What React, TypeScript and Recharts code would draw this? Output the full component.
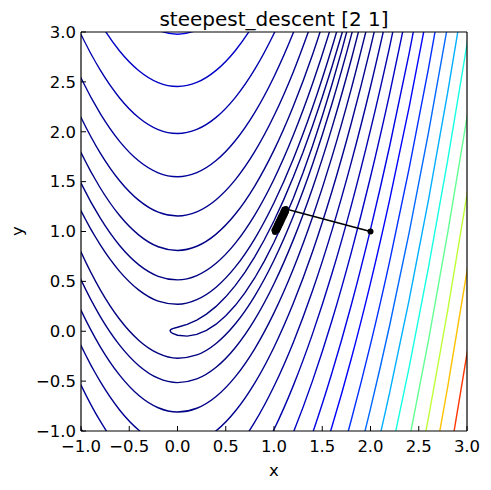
import React from 'react';
import { LineChart, Line, XAxis, YAxis } from 'recharts';

// contour levels of the Rosenbrock surface
const levels = [1.16, 8.3, 27.5, 66.6, 134.6, 241, 394, 603, 888, 1238, 1708, 2281, 2969, 3754, 4703, 5826, 7056, 8514];

const xTicks = [-1, -0.5, 0, 0.5, 1, 1.5, 2, 2.5, 3];
const yTicks = [-1, -0.5, 0, 0.5, 1, 1.5, 2, 2.5, 3];

// [x, y] points along each visible contour piece
const c1Hook = [
  [1.8, 3.312], [1.7, 2.972], [1.6, 2.649], [1.5, 2.345], [1.4, 2.06], [1.3, 1.793], [1.2, 1.546], [1.1, 1.317],
  [1.0, 1.108], [0.9, 0.917], [0.8, 0.746], [0.7, 0.593], [0.6, 0.46], [0.5, 0.345], [0.4, 0.249], [0.3, 0.172],
  [0.2, 0.112], [0.1, 0.069], [0, 0.04], [-0.05, 0.027], [-0.07, 0.017], [-0.077, 0.006],
  [-0.07, -0.007], [-0.05, -0.022], [0, -0.04], [0.1, -0.049], [0.2, -0.032], [0.3, 0.008], [0.4, 0.071],
  [0.5, 0.155], [0.6, 0.26], [0.7, 0.387], [0.8, 0.534], [0.9, 0.703], [1.0, 0.892], [1.1, 1.103], [1.2, 1.334],
  [1.3, 1.587], [1.4, 1.86], [1.5, 2.155], [1.6, 2.471], [1.7, 2.808], [1.8, 3.168],
];
const c2Upper = [[-1.2, 1.626], [-1, 1.207], [-0.8, 0.865], [-0.6, 0.6], [-0.4, 0.412], [-0.2, 0.302], [0, 0.27], [0.2, 0.317], [0.4, 0.442], [0.6, 0.645], [0.8, 0.927], [1, 1.288], [1.2, 1.727], [1.4, 2.245], [1.6, 2.842], [1.8, 3.517]];
const c2Lower = [[-1.2, 1.254], [-1, 0.793], [-0.8, 0.415], [-0.6, 0.12], [-0.4, -0.092], [-0.2, -0.222], [0, -0.27], [0.2, -0.237], [0.4, -0.122], [0.6, 0.075], [0.8, 0.353], [1, 0.712], [1.2, 1.153], [1.4, 1.675], [1.6, 2.278], [1.8, 2.963], [2, 3.73]];
const c3Upper = [[-1.2, 1.916], [-1, 1.485], [-0.8, 1.133], [-0.6, 0.859], [-0.4, 0.665], [-0.2, 0.551], [0, 0.515], [0.2, 0.558], [0.4, 0.681], [0.6, 0.883], [0.8, 1.164], [1, 1.524], [1.2, 1.964], [1.4, 2.483], [1.6, 3.081], [1.8, 3.758]];
const c3Lower = [[-1.2, 0.964], [-1, 0.515], [-0.8, 0.147], [-0.6, -0.139], [-0.4, -0.345], [-0.2, -0.471], [0, -0.515], [0.2, -0.478], [0.4, -0.361], [0.6, -0.163], [0.8, 0.116], [1, 0.476], [1.2, 0.916], [1.4, 1.437], [1.6, 2.039], [1.8, 2.722], [2, 3.485]];
const c4Upper = [[-1.2, 2.226], [-1, 1.791], [-0.8, 1.436], [-0.6, 1.16], [-0.4, 0.964], [-0.2, 0.847], [0, 0.81], [0.2, 0.852], [0.4, 0.974], [0.6, 1.175], [0.8, 1.456], [1, 1.816], [1.2, 2.256], [1.4, 2.775], [1.6, 3.374]];
const c4Lower = [[-1.2, 0.654], [-1, 0.209], [-0.8, -0.156], [-0.6, -0.44], [-0.4, -0.644], [-0.2, -0.767], [0, -0.81], [0.2, -0.772], [0.4, -0.654], [0.6, -0.455], [0.8, -0.176], [1, 0.184], [1.2, 0.624], [1.4, 1.145], [1.6, 1.746], [1.8, 2.428], [2, 3.19]];
const c5Upper = [[-1.2, 2.579], [-1, 2.143], [-0.8, 1.786], [-0.6, 1.509], [-0.4, 1.312], [-0.2, 1.194], [0, 1.156], [0.2, 1.197], [0.4, 1.319], [0.6, 1.52], [0.8, 1.8], [1, 2.16], [1.2, 2.6], [1.4, 3.12]];
const c5Lower = [[-1.2, 0.301], [-1, -0.143], [-0.8, -0.506], [-0.6, -0.789], [-0.4, -0.992], [-0.2, -1.114], [0, -1.156], [0.2, -1.117], [0.4, -0.999], [0.6, -0.8], [0.8, -0.52], [1, -0.16], [1.2, 0.28], [1.4, 0.8], [1.6, 1.401], [1.8, 2.083], [2, 2.844], [2.2, 3.686]];
const c6Upper = [[-1.2, 2.977], [-1, 2.539], [-0.8, 2.182], [-0.6, 1.904], [-0.4, 1.706], [-0.2, 1.588], [0, 1.549], [0.2, 1.59], [0.4, 1.711], [0.6, 1.912], [0.8, 2.192], [1, 2.552], [1.2, 2.992], [1.4, 3.512]];
const c6Lower = [[-1.2, -0.097], [-1, -0.539], [-0.8, -0.902], [-0.6, -1.184], [-0.4, -1.386], [-0.2, -1.508], [0, -1.549], [0.2, -1.51], [0.4, -1.391], [0.6, -1.192], [0.8, -0.912], [1, -0.552], [1.2, -0.112], [1.4, 0.408], [1.6, 1.009], [1.8, 1.69], [2, 2.451], [2.2, 3.292]];
const c7Upper = [[-1.2, 3.413], [-1, 2.975], [-0.8, 2.617], [-0.6, 2.339], [-0.4, 2.14], [-0.2, 2.021], [0, 1.982], [0.2, 2.023], [0.4, 2.144], [0.6, 2.345], [0.8, 2.625], [1, 2.985], [1.2, 3.425]];
const c7Lower = [[-1.2, -0.533], [-1, -0.975], [-0.8, -1.337], [-0.6, -1.619], [-0.4, -1.82], [-0.2, -1.941], [0, -1.982], [0.2, -1.943], [0.4, -1.824], [0.6, -1.625], [0.8, -1.345], [1, -0.985], [1.2, -0.545], [1.4, -0.024], [1.6, 0.576], [1.8, 1.257], [2, 2.018], [2.2, 2.859], [2.4, 3.78]];
const c8Upper = [[-1.2, 3.886], [-1, 3.447], [-0.8, 3.089], [-0.6, 2.81], [-0.4, 2.612], [-0.2, 2.493], [0, 2.454], [0.2, 2.494], [0.4, 2.615], [0.6, 2.815], [0.8, 3.095], [1, 3.456]];
const c8Lower = [[0.8, -1.815], [1, -1.456], [1.2, -1.015], [1.4, -0.495], [1.6, 0.105], [1.8, 0.786], [2, 1.546], [2.2, 2.387], [2.4, 3.308]];
const c9Upper = [[-0.6, 3.337], [-0.4, 3.137], [-0.2, 3.018], [0, 2.978], [0.2, 3.019], [0.4, 3.139], [0.6, 3.339]];
const c9Lower = [[1, -1.98], [1.2, -1.54], [1.4, -1.02], [1.6, -0.419], [1.8, 0.261], [2, 1.022], [2.2, 1.862], [2.4, 2.783], [2.6, 3.784]];
const c10Lower = [[1.2, -2.078], [1.4, -1.558], [1.6, -0.958], [1.8, -0.278], [2, 0.483], [2.2, 1.324], [2.4, 2.244], [2.6, 3.245]];
const c11Lower = [[1.4, -2.172], [1.6, -1.572], [1.8, -0.892], [2, -0.132], [2.2, 0.709], [2.4, 1.63], [2.6, 2.63], [2.8, 3.711]];
const c12Lower = [[1.6, -2.215], [1.8, -1.535], [2, -0.775], [2.2, 0.065], [2.4, 0.986], [2.6, 1.987], [2.8, 3.067], [3, 4.227]];
const c13Lower = [[1.8, -2.208], [2, -1.448], [2.2, -0.608], [2.4, 0.313], [2.6, 1.313], [2.8, 2.394], [3, 3.555]];
const c14Lower = [[2, -2.126], [2.2, -1.286], [2.4, -0.365], [2.6, 0.635], [2.8, 1.716], [3, 2.876], [3.2, 4.117]];
const c15Lower = [[2.2, -2.017], [2.4, -1.096], [2.6, -0.096], [2.8, 0.985], [3, 2.145], [3.2, 3.386]];
const c16Lower = [[2.2, -2.792], [2.4, -1.872], [2.6, -0.871], [2.8, 0.209], [3, 1.37], [3.2, 2.61]];
const c17Lower = [[2.4, -2.638], [2.6, -1.638], [2.8, -0.558], [3, 0.602], [3.2, 1.843]];
const c18Lower = [[2.6, -2.466], [2.8, -1.385], [3, -0.225], [3.2, 1.015]];

// steepest descent iterates, starting at (2, 1), zig-zagging down the valley
const pathX = [2.0, 1.124, 1.106, 1.125, 1.095, 1.113, 1.084, 1.102, 1.072, 1.09, 1.061, 1.079, 1.049, 1.068, 1.038, 1.056, 1.027, 1.045, 1.015, 1.033, 1.004, 1.01];
const pathY = [1.0, 1.226, 1.221, 1.197, 1.197, 1.174, 1.174, 1.151, 1.151, 1.128, 1.128, 1.105, 1.105, 1.081, 1.082, 1.058, 1.059, 1.035, 1.036, 1.012, 1.013, 0.995];

const pieces = [
  { level: levels[0], pts: c1Hook, curve: 'linear' },
  { level: levels[1], pts: c2Upper, curve: 'monotone' },
  { level: levels[1], pts: c2Lower, curve: 'monotone' },
  { level: levels[2], pts: c3Upper, curve: 'monotone' },
  { level: levels[2], pts: c3Lower, curve: 'monotone' },
  { level: levels[3], pts: c4Upper, curve: 'monotone' },
  { level: levels[3], pts: c4Lower, curve: 'monotone' },
  { level: levels[4], pts: c5Upper, curve: 'monotone' },
  { level: levels[4], pts: c5Lower, curve: 'monotone' },
  { level: levels[5], pts: c6Upper, curve: 'monotone' },
  { level: levels[5], pts: c6Lower, curve: 'monotone' },
  { level: levels[6], pts: c7Upper, curve: 'monotone' },
  { level: levels[6], pts: c7Lower, curve: 'monotone' },
  { level: levels[7], pts: c8Upper, curve: 'monotone' },
  { level: levels[7], pts: c8Lower, curve: 'monotone' },
  { level: levels[8], pts: c9Upper, curve: 'monotone' },
  { level: levels[8], pts: c9Lower, curve: 'monotone' },
  { level: levels[9], pts: c10Lower, curve: 'monotone' },
  { level: levels[10], pts: c11Lower, curve: 'monotone' },
  { level: levels[11], pts: c12Lower, curve: 'monotone' },
  { level: levels[12], pts: c13Lower, curve: 'monotone' },
  { level: levels[13], pts: c14Lower, curve: 'monotone' },
  { level: levels[14], pts: c15Lower, curve: 'monotone' },
  { level: levels[15], pts: c16Lower, curve: 'monotone' },
  { level: levels[16], pts: c17Lower, curve: 'monotone' },
  { level: levels[17], pts: c18Lower, curve: 'monotone' },
];

// matplotlib "jet" colormap, levels normalised to 0..10000
function jet(level: number) {
  const v = Math.max(0, Math.min(1, level / 10000));
  const seg = (stops: number[][]) => {
    for (let i = 1; i < stops.length; i++) {
      const [x0, y0] = stops[i - 1];
      const [x1, y1] = stops[i];
      if (v <= x1) return y0 + ((v - x0) / (x1 - x0)) * (y1 - y0);
    }
    return stops[stops.length - 1][1];
  };
  const r = seg([[0, 0], [0.35, 0], [0.66, 1], [0.89, 1], [1, 0.5]]);
  const g = seg([[0, 0], [0.125, 0], [0.375, 1], [0.64, 1], [0.91, 0], [1, 0]]);
  const b = seg([[0, 0.5], [0.11, 1], [0.34, 1], [0.65, 0], [1, 0]]);
  const h = (c: number) => Math.round(c * 255).toString(16).padStart(2, '0');
  return `#${h(r)}${h(g)}${h(b)}`;
}

const toRows = (pts: number[][]) => pts.map(([x, y]) => ({ x, y }));
const pathRows = pathX.map((x, i) => ({ x, y: pathY[i] }));
const fmt = (v: number) => v.toFixed(1).replace('-', '\u2212');

const font = 'DejaVu Sans, sans-serif';
const tickStyle = { fill: '#000', fontSize: 16.5, fontFamily: font };

export default function App() {
  return (
    <div style={{ position: 'absolute', left: 0, top: 0, width: 491, height: 490, background: '#fff' }}>
      <LineChart width={491} height={490} margin={{ top: 31, right: 23, bottom: 0, left: 0 }}>
        <XAxis
          xAxisId={0}
          dataKey="x"
          type="number"
          domain={[-1, 3]}
          ticks={xTicks}
          allowDataOverflow
          height={59}
          tickSize={-5}
          tickMargin={14}
          tickFormatter={fmt}
          tick={tickStyle}
          axisLine={{ stroke: '#000', strokeWidth: 1.2 }}
          tickLine={{ stroke: '#000' }}
        />
        <XAxis
          xAxisId="top"
          orientation="top"
          dataKey="x"
          type="number"
          domain={[-1, 3]}
          ticks={xTicks}
          allowDataOverflow
          height={1}
          tickSize={-5}
          tick={false}
          axisLine={{ stroke: '#000', strokeWidth: 1.2 }}
          tickLine={{ stroke: '#000' }}
        />
        <YAxis
          yAxisId={0}
          type="number"
          domain={[-1, 3]}
          ticks={yTicks}
          allowDataOverflow
          width={81}
          tickSize={-5}
          tickMargin={10}
          tickFormatter={fmt}
          tick={tickStyle}
          axisLine={{ stroke: '#000', strokeWidth: 1.2 }}
          tickLine={{ stroke: '#000' }}
        />
        <YAxis
          yAxisId="right"
          orientation="right"
          type="number"
          domain={[-1, 3]}
          ticks={yTicks}
          allowDataOverflow
          width={1}
          tickSize={-5}
          tick={false}
          axisLine={{ stroke: '#000', strokeWidth: 1.2 }}
          tickLine={{ stroke: '#000' }}
        />
        {pieces.map((p, i) => (
          <Line
            key={`c${i}`}
            xAxisId={0}
            yAxisId={0}
            data={toRows(p.pts)}
            dataKey="y"
            type={p.curve as any}
            stroke={jet(p.level)}
            strokeWidth={1.4}
            dot={false}
            activeDot={false}
            isAnimationActive={false}
          />
        ))}
        <Line
          xAxisId={0}
          yAxisId={0}
          data={pathRows}
          dataKey="y"
          type="linear"
          stroke="#000"
          strokeWidth={1.5}
          dot={{ r: 3, fill: '#000', stroke: '#000', strokeWidth: 0 }}
          activeDot={false}
          isAnimationActive={false}
        />
      </LineChart>
      <svg
        width={491}
        height={490}
        style={{ position: 'absolute', left: 0, top: 0, pointerEvents: 'none' }}
      >
        <text x={274} y={25.5} textAnchor="middle" fontSize={20} fontFamily={font} fill="#000">
          steepest_descent [2 1]
        </text>
        <text x={274} y={476} textAnchor="middle" fontSize={16.5} fontFamily={font} fill="#000">
          x
        </text>
        <text x={23} y={231} textAnchor="middle" fontSize={16.5} fontFamily={font} fill="#000" transform="rotate(-90 23 231)">
          y
        </text>
      </svg>
    </div>
  );
}
